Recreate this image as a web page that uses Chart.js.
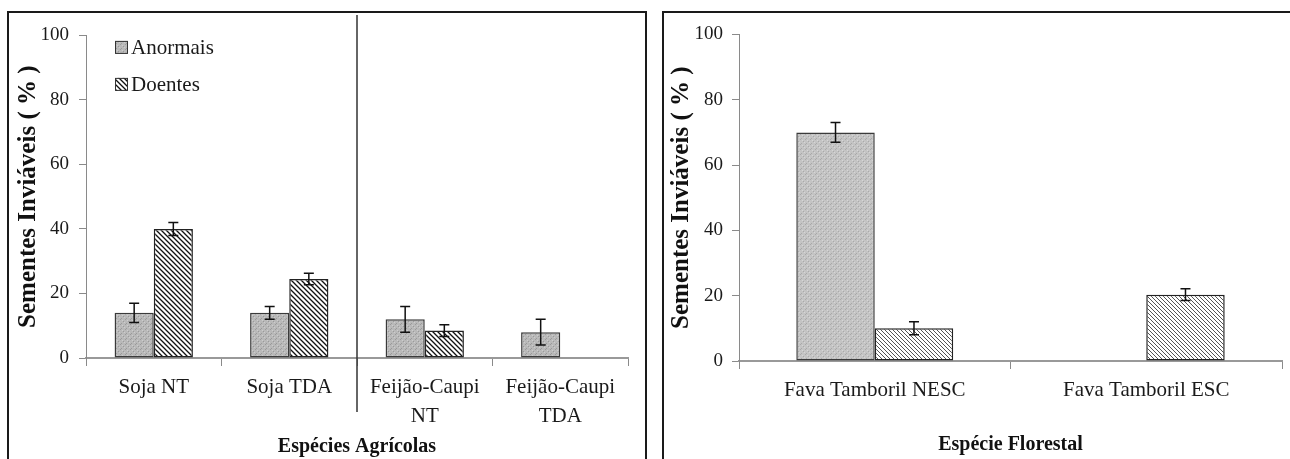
<!DOCTYPE html>
<html>
<head>
<meta charset="utf-8">
<script src="https://cdn.jsdelivr.net/npm/chart.js@4.4.1/dist/chart.umd.min.js"></script>
<style>
  body { margin: 0; background: #fff; width: 1290px; height: 459px; overflow: hidden; position: relative; }
  .panel { position: absolute; top: 11px; height: 470px; box-sizing: border-box; border: 2px solid #1a1a1a; }
  #leftPanel { left: 7px; width: 640px; }
  #rightPanel { left: 662px; width: 700px; border-right: none; }
  canvas { position: absolute; }
  #agriChart { left: 10px; top: 14px; }
  #forestChart { left: 665px; top: 14px; }
</style>
</head>
<body>
<div class="panel" id="leftPanel"></div>
<div class="panel" id="rightPanel"></div>
<canvas id="agriChart" width="634" height="445"></canvas>
<canvas id="forestChart" width="625" height="445"></canvas>
<script>
// Espécies agrícolas
const agriCategories = ["Soja NT", "Soja TDA", ["Feijão-Caupi", "NT"], ["Feijão-Caupi", "TDA"]];
const agriAnormais = [14, 14, 12, 8];
const agriAnormaisErr = [3, 2, 4, 4];
const agriDoentes = [40, 24.5, 8.5, null];
const agriDoentesErr = [2, 1.8, 1.8, null];

// Espécie florestal
const forestCategories = ["Fava Tamboril NESC", "Fava Tamboril ESC"];
const forestAnormais = [70, null];
const forestAnormaisErr = [3, null];
const forestDoentes = [10, 20.3];
const forestDoentesErr = [2, 1.8];

const yTicks = [0, 20, 40, 60, 80, 100];

const SERIF = '"Liberation Serif", "Times New Roman", serif';
Chart.defaults.font.family = SERIF;
Chart.defaults.color = "#1a1a1a";

function hatchPattern(size, color, width) {
  const c = document.createElement("canvas");
  c.width = size; c.height = size;
  const g = c.getContext("2d");
  g.fillStyle = "#fff";
  g.fillRect(0, 0, size, size);
  g.strokeStyle = color;
  g.lineWidth = width;
  g.beginPath();
  g.moveTo(-1, -1); g.lineTo(size + 1, size + 1);
  g.moveTo(-1, size - 1); g.lineTo(1, size + 1);
  g.moveTo(size - 1, -1); g.lineTo(size + 1, 1);
  g.stroke();
  return g.createPattern(c, "repeat");
}

function specklePattern(base, dark, light) {
  const c = document.createElement("canvas");
  c.width = 5; c.height = 5;
  const g = c.getContext("2d");
  g.fillStyle = base;
  g.fillRect(0, 0, 5, 5);
  g.fillStyle = dark;
  g.fillRect(0, 0, 1, 1); g.fillRect(3, 2, 1, 1); g.fillRect(1, 4, 1, 1);
  g.fillStyle = light;
  g.fillRect(2, 1, 1, 1); g.fillRect(4, 3, 1, 1);
  return g.createPattern(c, "repeat");
}

const errorBars = {
  id: "errorBars",
  afterDatasetsDraw(chart, args, opts) {
    const ctx = chart.ctx;
    const y = chart.scales.y;
    chart.data.datasets.forEach((ds, di) => {
      const errs = opts.errors[di];
      chart.getDatasetMeta(di).data.forEach((bar, i) => {
        const v = ds.data[i], e = errs[i];
        if (v == null || e == null) return;
        const top = y.getPixelForValue(v + e);
        const bot = y.getPixelForValue(v - e);
        const half = opts.cap / 2;
        ctx.save();
        ctx.strokeStyle = "#111";
        ctx.lineWidth = 1.5;
        ctx.beginPath();
        ctx.moveTo(bar.x, top); ctx.lineTo(bar.x, bot);
        ctx.moveTo(bar.x - half, top); ctx.lineTo(bar.x + half, top);
        ctx.moveTo(bar.x - half, bot); ctx.lineTo(bar.x + half, bot);
        ctx.stroke();
        ctx.restore();
      });
    });
  }
};

const separator = {
  id: "separator",
  afterDraw(chart, args, opts) {
    const x = chart.scales.x;
    const px = (x.getPixelForValue(opts.after) + x.getPixelForValue(opts.after + 1)) / 2;
    const ctx = chart.ctx;
    ctx.save();
    ctx.strokeStyle = "#333";
    ctx.lineWidth = 1.5;
    ctx.beginPath();
    ctx.moveTo(px, opts.top);
    ctx.lineTo(px, opts.bottom);
    ctx.stroke();
    ctx.restore();
  }
};

const boxLegend = {
  id: "boxLegend",
  afterDraw(chart, args, opts) {
    const { ctx, chartArea } = chart;
    chart.data.datasets.forEach((ds, i) => {
      const bx = chartArea.left + opts.x;
      const cy = chartArea.top + opts.y + i * opts.gap;
      ctx.save();
      ctx.fillStyle = ds.backgroundColor;
      ctx.fillRect(bx, cy - 6.5, 13, 13);
      ctx.strokeStyle = "#333";
      ctx.lineWidth = 1;
      ctx.strokeRect(bx + 0.5, cy - 6, 12, 12);
      ctx.fillStyle = "#1a1a1a";
      ctx.font = "21px " + SERIF;
      ctx.textBaseline = "middle";
      ctx.fillText(ds.label, bx + 16, cy + 1);
      ctx.restore();
    });
  }
};

function makeChart(id, cfg) {
  const ctx = document.getElementById(id).getContext("2d");
  return new Chart(ctx, {
    type: "bar",
    data: {
      labels: cfg.labels,
      datasets: [
        {
          label: "Anormais",
          data: cfg.anormais,
          backgroundColor: cfg.gray,
          borderColor: "#3a3a3a",
          borderWidth: 1.5,
          borderSkipped: false,
          categoryPercentage: 0.578,
          barPercentage: 1
        },
        {
          label: "Doentes",
          data: cfg.doentes,
          backgroundColor: cfg.hatch,
          borderColor: "#222",
          borderWidth: 1.5,
          borderSkipped: false,
          categoryPercentage: 0.578,
          barPercentage: 1
        }
      ]
    },
    options: {
      responsive: false,
      animation: false,
      layout: { padding: { left: 0, top: 20, right: cfg.padRight, bottom: 0 } },
      plugins: {
        legend: { display: false },
        tooltip: { enabled: false },
        errorBars: { errors: cfg.errors, cap: 10 },
        separator: { after: 1, top: 1, bottom: 398 },
        boxLegend: { x: 29, y: 12, gap: 37 }
      },
      scales: {
        x: {
          afterFit: s => { s.height = cfg.xHeight; },
          grid: { offset: true, drawOnChartArea: false, drawTicks: true, tickLength: 8, color: "#8a8a8a" },
          border: { color: "#999", width: 2 },
          ticks: { padding: 7, maxRotation: 0, autoSkip: false, font: { size: 21, lineHeight: 1.38 } },
          title: {
            display: true,
            text: cfg.xTitle,
            color: "#111",
            font: { size: 20, weight: "bold" },
            padding: { top: 0, bottom: cfg.titlePad }
          }
        },
        y: {
          min: 0,
          max: 100,
          afterBuildTicks: s => { s.ticks = yTicks.map(v => ({ value: v })); },
          afterFit: s => { s.width = cfg.yWidth; },
          grid: { drawOnChartArea: false, drawTicks: true, tickLength: 7, color: "#8a8a8a" },
          border: { color: "#8a8a8a", width: 1 },
          ticks: { padding: cfg.yPad, font: { size: 19 } },
          title: {
            display: true,
            text: "Sementes Inviáveis ( % )",
            color: "#111",
            font: { size: 25, weight: "bold" },
            padding: { top: cfg.yTitlePad, bottom: 0 }
          }
        }
      }
    },
    plugins: cfg.plugins
  });
}

makeChart("agriChart", {
  labels: agriCategories,
  anormais: agriAnormais,
  doentes: agriDoentes,
  errors: [agriAnormaisErr, agriDoentesErr],
  gray: specklePattern("#b9b9b9", "#9a9a9a", "#cdcdcd"),
  hatch: hatchPattern(5, "#111", 1.3),
  xTitle: "Espécies Agrícolas",
  padRight: 16,
  xHeight: 101,
  yWidth: 76,
  yPad: 10,
  yTitlePad: 4,
  titlePad: 0,
  plugins: [errorBars, separator, boxLegend]
});

makeChart("forestChart", {
  labels: forestCategories,
  anormais: forestAnormais,
  doentes: forestDoentes,
  errors: [forestAnormaisErr, forestDoentesErr],
  gray: specklePattern("#c4c4c4", "#a9a9a9", "#d6d6d6"),
  hatch: hatchPattern(4, "#555", 1),
  xTitle: "Espécie Florestal",
  padRight: 8,
  xHeight: 98,
  yWidth: 74,
  yPad: 9,
  yTitlePad: 2,
  titlePad: 2,
  plugins: [errorBars]
});
</script>
</body>
</html>
